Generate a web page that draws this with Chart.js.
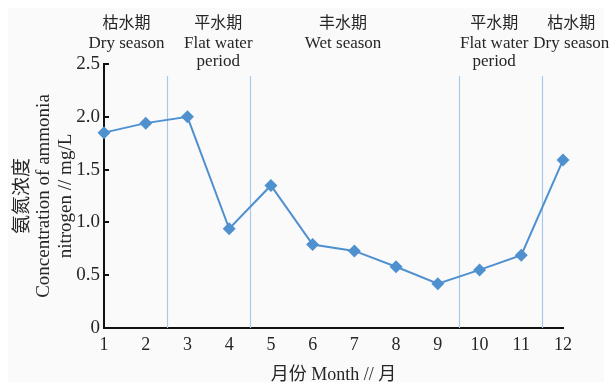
<!DOCTYPE html>
<html>
<head>
<meta charset="utf-8">
<script src="https://cdn.jsdelivr.net/npm/chart.js@4/dist/chart.umd.min.js"></script>
<style>
  html, body { margin: 0; padding: 0; background: #ffffff; }
  #wrap { width: 612px; height: 386px; }
</style>
</head>
<body>
<div id="wrap"><canvas id="c" width="612" height="386"></canvas></div>
<script>
// Monthly ammonia nitrogen concentration (mg/L)
const months = [1, 2, 3, 4, 5, 6, 7, 8, 9, 10, 11, 12];
const ammoniaN = [1.85, 1.94, 2.00, 0.94, 1.35, 0.79, 0.73, 0.58, 0.42, 0.55, 0.69, 1.59];
const yTicks = [0, 0.5, 1.0, 1.5, 2.0, 2.5];

// Hydrological periods: boundaries between months and their captions
const seasonBounds = [2.5, 4.5, 9.5, 11.5];
const seasonNames = [
  ['枯水期', 'Dry season'],
  ['平水期', 'Flat water', 'period'],
  ['丰水期', 'Wet season'],
  ['平水期', 'Flat water', 'period'],
  ['枯水期', 'Dry season']
];
const seasonLabelAt = [1.54, 3.74, 6.73, 10.35, 12.2];

const SERIF = '"Liberation Serif", "Noto Sans CJK SC", serif';
const CJK = '"Noto Sans CJK SC", sans-serif';
const INK = '#262626';
const LINE_BLUE = '#4f90cf';

const decor = {
  id: 'decor',
  beforeDraw(chart) {
    const ctx = chart.ctx;
    ctx.save();
    ctx.fillStyle = '#ffffff';
    ctx.fillRect(0, 0, chart.width, chart.height);
    ctx.fillStyle = '#fafafb';
    ctx.fillRect(8, 8, chart.width - 16, chart.height - 12);
    ctx.restore();
  },
  beforeDatasetsDraw(chart) {
    const ctx = chart.ctx;
    const xs = chart.scales.x;
    const area = chart.chartArea;
    ctx.save();
    ctx.strokeStyle = '#a9c9e8';
    ctx.lineWidth = 1.2;
    seasonBounds.forEach(b => {
      const px = Math.round(xs.getPixelForValue(b)) + 0.5;
      ctx.beginPath();
      ctx.moveTo(px, area.top + 12);
      ctx.lineTo(px, area.bottom);
      ctx.stroke();
    });
    ctx.restore();
  },
  afterDraw(chart) {
    const ctx = chart.ctx;
    const xs = chart.scales.x;
    const ys = chart.scales.y;
    const area = chart.chartArea;
    ctx.save();
    // inward tick marks on the value axis
    ctx.strokeStyle = '#111111';
    ctx.lineWidth = 2;
    yTicks.forEach(v => {
      const py = Math.round(ys.getPixelForValue(v));
      ctx.beginPath();
      ctx.moveTo(area.left, py);
      ctx.lineTo(area.left + 5, py);
      ctx.stroke();
    });
    // period captions above the plot
    ctx.fillStyle = INK;
    ctx.textAlign = 'center';
    ctx.textBaseline = 'middle';
    seasonNames.forEach((lines, i) => {
      const cx = xs.getPixelForValue(seasonLabelAt[i]);
      lines.forEach((t, j) => {
        if (j === 0) {
          ctx.font = '16px ' + CJK;
          ctx.fillText(t, cx, 22);
        } else {
          ctx.font = '17px ' + SERIF;
          ctx.fillText(t, cx, j === 1 ? 44 : 62);
        }
      });
    });
    ctx.restore();
  }
};

new Chart(document.getElementById('c'), {
  type: 'line',
  data: {
    datasets: [{
      data: months.map((m, i) => ({ x: m, y: ammoniaN[i] })),
      borderColor: LINE_BLUE,
      backgroundColor: LINE_BLUE,
      borderWidth: 2,
      pointStyle: 'rectRot',
      pointRadius: 6.5,
      pointHoverRadius: 6.5,
      pointBorderWidth: 0,
      tension: 0,
      fill: false,
      clip: false
    }]
  },
  options: {
    responsive: false,
    devicePixelRatio: 1,
    animation: false,
    layout: { padding: { top: 64, right: 49, left: 0, bottom: 0 } },
    plugins: { legend: { display: false }, tooltip: { enabled: false } },
    scales: {
      x: {
        type: 'linear',
        min: 1,
        max: 12,
        afterBuildTicks: s => { s.ticks = months.map(v => ({ value: v })); },
        afterFit: s => { s.height = 58; },
        grid: { display: true, drawOnChartArea: false, drawTicks: false },
        border: { display: true, color: '#111111', width: 2 },
        ticks: {
          padding: 6,
          color: INK,
          font: { family: SERIF, size: 18 },
          maxRotation: 0,
          autoSkip: false,
          callback: v => String(v)
        },
        title: {
          display: true,
          text: '月份 Month // 月',
          color: INK,
          font: { family: SERIF, size: 18, lineHeight: 1.2 },
          padding: { top: 0, bottom: 0 }
        }
      },
      y: {
        min: 0,
        max: 2.5,
        afterBuildTicks: s => { s.ticks = yTicks.map(v => ({ value: v })); },
        afterFit: s => { s.width = 104; },
        grid: { display: true, drawOnChartArea: false, drawTicks: false },
        border: { display: true, color: '#111111', width: 2 },
        ticks: {
          padding: 4,
          color: INK,
          font: { family: SERIF, size: 19 },
          callback: v => (v === 0 ? '0' : v.toFixed(1))
        },
        title: {
          display: true,
          text: ['氨氮浓度', 'Concentration of ammonia', 'nitrogen // mg/L'],
          color: INK,
          font: { family: SERIF, size: 19, lineHeight: 1.12 },
          padding: { top: 12.5, bottom: 0 }
        }
      }
    }
  },
  plugins: [decor]
});
</script>
</body>
</html>
